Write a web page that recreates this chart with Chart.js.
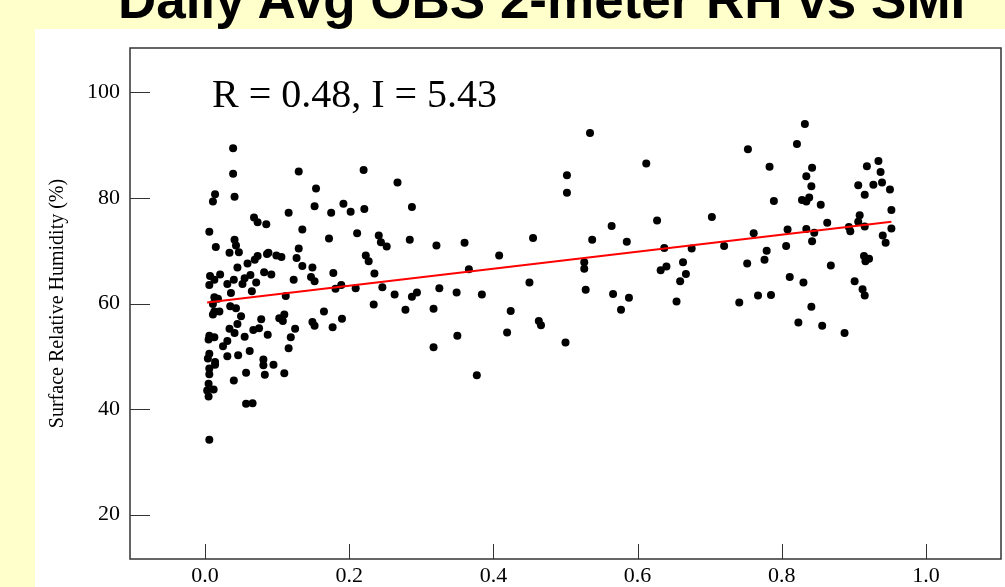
<!DOCTYPE html>
<html lang="en">
<head>
    <meta charset="UTF-8">
    <title>Daily Avg OBS 2-meter RH vs SMI</title>
    <script src="https://cdn.jsdelivr.net/npm/chart.js"></script>
    <style>
        html, body { margin: 0; padding: 0; }
        body { width: 1005px; height: 587px; background: #ffffcc; position: relative; overflow: hidden; }
        #title { position: absolute; left: 118px; top: -27px; font: bold 53px "Liberation Sans", Arial, sans-serif; line-height: 1; white-space: nowrap; color: #000; }
        #panel { position: absolute; left: 35px; top: 29px; right: 0; bottom: 0; background: #fff; }
        #wrap { position: absolute; left: 0; top: 0; width: 1005px; height: 587px; }
    </style>
</head>
<body>
    <div id="title">Daily Avg OBS 2-meter RH vs SMI</div>
    <div id="panel"></div>
    <div id="wrap">
        <canvas id="scatterChart"></canvas>
    </div>

    <script>
        // soil moisture index (x) and surface RH (y)
        const smiValues = [
            0.039, 0.039, 0.014, 0.011, 0.041, 0.068, 0.073, 0.085, 0.006, 0.041,
            0.015, 0.043, 0.034, 0.047, 0.073, 0.069, 0.086, 0.059, 0.045, 0.082,
            0.063, 0.055, 0.040, 0.021, 0.007, 0.013, 0.006, 0.031, 0.052, 0.071,
            0.036, 0.065, 0.013, 0.018, 0.011, 0.035, 0.043, 0.013, 0.020, 0.011,
            0.050, 0.078, 0.045, 0.034, 0.041, 0.055, 0.067, 0.075, 0.087, 0.006,
            0.013, 0.005, 0.031, 0.025, 0.062, 0.006, 0.046, 0.031, 0.004, 0.014,
            0.081, 0.014, 0.081, 0.006, 0.006, 0.057, 0.083, 0.040, 0.005, 0.012,
            0.003, 0.005, 0.057, 0.066, 0.006,
            0.130, 0.220, 0.154, 0.152, 0.192, 0.116, 0.175, 0.202, 0.221, 0.135,
            0.211, 0.241, 0.244, 0.172, 0.130, 0.088, 0.099, 0.106, 0.127, 0.223,
            0.227, 0.135, 0.149, 0.092, 0.123, 0.147, 0.152, 0.178, 0.235, 0.189,
            0.181, 0.209, 0.246, 0.112, 0.234, 0.165, 0.110, 0.103, 0.108, 0.149,
            0.152, 0.190, 0.177, 0.125, 0.119, 0.116, 0.095, 0.110,
            0.267, 0.287, 0.252, 0.284, 0.321, 0.360, 0.408, 0.455, 0.502, 0.502,
            0.366, 0.263, 0.287, 0.294, 0.325, 0.349, 0.384, 0.450, 0.278, 0.317,
            0.424, 0.463, 0.466, 0.350, 0.419, 0.500, 0.317, 0.377,
            0.534, 0.612, 0.753, 0.783, 0.789, 0.564, 0.627, 0.703, 0.537, 0.585,
            0.761, 0.637, 0.675, 0.720, 0.779, 0.526, 0.526, 0.632, 0.640, 0.663,
            0.667, 0.659, 0.752, 0.776, 0.528, 0.566, 0.588, 0.577, 0.654, 0.741,
            0.767, 0.785,
            0.832, 0.821, 0.842, 0.834, 0.841, 0.828, 0.838, 0.834, 0.854, 0.918,
            0.934, 0.937, 0.906, 0.927, 0.939, 0.950, 0.915, 0.952, 0.908, 0.906,
            0.863, 0.893, 0.895, 0.915, 0.952, 0.940, 0.944, 0.808, 0.834, 0.845,
            0.842, 0.806, 0.914, 0.921, 0.916, 0.868, 0.811, 0.830, 0.901, 0.912,
            0.915, 0.841, 0.823, 0.856, 0.887
        ];
        const rhValues = [
            89.4, 84.6, 80.7, 79.3, 80.2, 76.3, 75.4, 75.0, 73.6, 72.1,
            70.7, 71.0, 69.6, 69.7, 69.0, 68.3, 69.4, 67.6, 66.8, 65.9,
            65.4, 64.8, 64.5, 65.5, 65.2, 64.5, 63.5, 63.7, 63.7, 64.0,
            62.0, 62.3, 61.2, 60.9, 59.9, 59.5, 59.1, 58.5, 58.5, 57.9,
            57.6, 57.0, 56.1, 55.2, 54.4, 53.7, 55.0, 55.3, 54.1, 53.9,
            53.6, 53.2, 52.9, 51.9, 51.0, 50.5, 50.2, 50.0, 49.6, 48.9,
            49.4, 48.4, 48.3, 47.7, 46.6, 46.9, 46.5, 45.4, 44.8, 43.7,
            43.5, 42.4, 41.0, 41.1, 34.2,
            85.0, 85.3, 81.8, 78.4, 78.9, 77.2, 77.2, 77.4, 77.9, 74.0,
            73.3, 72.9, 71.6, 72.3, 70.4, 69.6, 69.1, 68.8, 68.6, 69.1,
            68.0, 67.1, 66.8, 65.5, 64.5, 65.0, 64.2, 65.8, 65.7, 63.5,
            62.8, 62.9, 63.1, 61.4, 59.8, 58.5, 57.9, 57.2, 56.7, 56.5,
            55.8, 57.1, 55.5, 55.2, 53.6, 51.5, 48.4, 46.8,
            82.9, 78.3, 70.8, 72.1, 71.0, 71.5, 69.1, 72.4, 84.3, 81.0,
            66.5, 61.7, 61.3, 62.1, 62.9, 62.1, 61.7, 64.0, 58.8, 59.0,
            58.6, 56.7, 55.9, 53.9, 54.5, 52.6, 51.7, 46.4,
            92.3, 86.5, 89.2, 85.9, 79.4, 74.7, 75.7, 76.4, 72.1, 71.7,
            73.3, 70.5, 70.4, 70.9, 70.0, 67.8, 66.6, 66.3, 67.0, 67.8,
            65.6, 64.2, 67.6, 68.3, 62.6, 61.8, 61.1, 58.8, 60.4, 60.2,
            61.5, 61.6,
            94.0, 90.2, 85.7, 84.1, 82.2, 79.6, 80.1, 79.3, 78.7, 86.0,
            87.0, 84.9, 82.4, 82.5, 82.9, 81.6, 80.6, 77.7, 76.7, 75.5,
            75.3, 74.5, 73.7, 74.6, 74.2, 72.9, 71.5, 74.0, 74.1, 73.4,
            71.8, 70.9, 69.0, 68.5, 68.0, 67.2, 65.0, 64.0, 64.2, 62.7,
            61.5, 59.4, 56.4, 55.8, 54.4
        ];

        // regression line end points
        const fitSmi = [0.003, 0.952];
        const fitRh = [60.2, 75.5];

        const xTicks = [0.0, 0.2, 0.4, 0.6, 0.8, 1.0];
        const yTicks = [20, 40, 60, 80, 100];
        const statsLabel = 'R = 0.48, I = 5.43';

        const serif = '"Liberation Serif", "Times New Roman", serif';
        Chart.defaults.font.family = serif;
        Chart.defaults.color = '#000';

        // closed frame, inward tick marks and the R/I label
        const framePlugin = {
            id: 'frame',
            afterDraw(chart) {
                const { ctx, chartArea: a, scales } = chart;
                ctx.save();
                ctx.strokeStyle = '#333';
                ctx.lineWidth = 1.5;
                ctx.strokeRect(a.left, a.top, a.right - a.left, a.bottom - a.top);
                ctx.lineWidth = 1;
                ctx.beginPath();
                yTicks.forEach(v => {
                    const y = Math.round(scales.y.getPixelForValue(v)) + 0.5;
                    ctx.moveTo(a.left, y);
                    ctx.lineTo(a.left + 20, y);
                });
                xTicks.forEach(v => {
                    const x = Math.round(scales.x.getPixelForValue(v)) + 0.5;
                    ctx.moveTo(x, a.bottom);
                    ctx.lineTo(x, a.bottom - 15);
                });
                ctx.stroke();
                ctx.fillStyle = '#000';
                ctx.font = '40px ' + serif;
                ctx.textBaseline = 'alphabetic';
                ctx.fillText(statsLabel, a.left + 82, a.top + 59);
                ctx.restore();
            }
        };

        new Chart(document.getElementById('scatterChart'), {
            type: 'scatter',
            data: {
                datasets: [
                    {
                        label: 'fit',
                        data: fitSmi.map((x, i) => ({ x: x, y: fitRh[i] })),
                        showLine: true,
                        borderColor: '#ff0000',
                        borderWidth: 2,
                        pointRadius: 0,
                        fill: false
                    },
                    {
                        label: 'obs',
                        data: smiValues.map((x, i) => ({ x: x, y: rhValues[i] })),
                        pointRadius: 4,
                        pointBackgroundColor: '#000',
                        pointBorderColor: '#000',
                        pointBorderWidth: 0
                    }
                ]
            },
            options: {
                responsive: true,
                maintainAspectRatio: false,
                animation: false,
                layout: { padding: { top: 48, right: 3, left: 0, bottom: 0 } },
                plugins: {
                    legend: { display: false },
                    tooltip: { enabled: false }
                },
                scales: {
                    x: {
                        type: 'linear',
                        min: -0.104,
                        max: 1.104,
                        grid: { display: false, drawTicks: false },
                        border: { display: false },
                        afterBuildTicks: s => { s.ticks = xTicks.map(v => ({ value: v })); },
                        afterFit: s => { s.height = 28; },
                        ticks: {
                            callback: v => v.toFixed(1),
                            font: { size: 22 },
                            padding: 4,
                            maxRotation: 0,
                            autoSkip: false
                        }
                    },
                    y: {
                        type: 'linear',
                        min: 11.6,
                        max: 108.4,
                        grid: { display: false, drawTicks: false },
                        border: { display: false },
                        afterBuildTicks: s => { s.ticks = yTicks.map(v => ({ value: v })); },
                        afterFit: s => { s.width = 130; },
                        ticks: {
                            callback: v => String(v),
                            font: { size: 22 },
                            padding: 10
                        },
                        title: {
                            display: true,
                            text: 'Surface Relative Humidity (%)',
                            font: { size: 20 },
                            padding: { top: 46, bottom: 0 }
                        }
                    }
                }
            },
            plugins: [framePlugin]
        });
    </script>
</body>
</html>
